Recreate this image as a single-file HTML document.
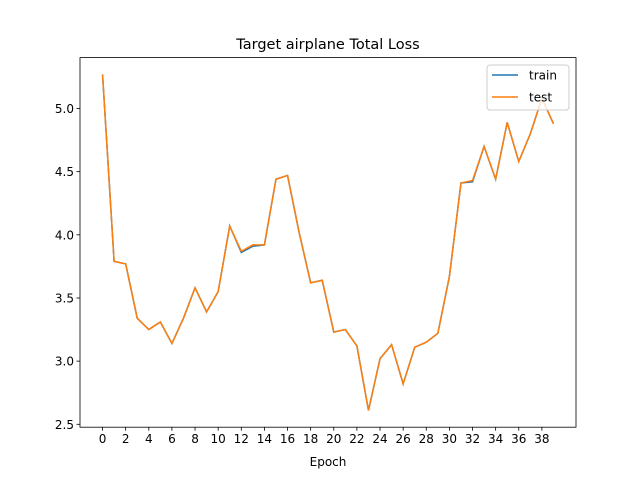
<!DOCTYPE html>
<html><head><meta charset="utf-8"><style>
body{margin:0;background:#fff}
svg{display:block;font-family:"DejaVu Sans","Liberation Sans",sans-serif}
</style></head><body>
<svg id="chart" width="640" height="480">
<rect width="640" height="480" fill="#fff"/>
<text x="328" y="49" text-anchor="middle" font-size="14.5">Target airplane Total Loss</text>
<g id="plot"></g>
</svg>
<script>
const epochs=[...Array(40).keys()];
const trainLoss=[5.27,3.79,3.77,3.34,3.25,3.31,3.14,3.34,3.58,3.39,3.55,4.07,3.86,3.91,3.92,4.44,4.47,4.02,3.62,3.64,3.23,3.25,3.12,2.61,3.02,3.13,2.82,3.11,3.15,3.22,3.67,4.41,4.42,4.70,4.44,4.89,4.58,4.80,5.08,4.88];
const testLoss=[5.27,3.79,3.77,3.34,3.25,3.31,3.14,3.34,3.58,3.39,3.55,4.07,3.87,3.92,3.92,4.44,4.47,4.02,3.62,3.64,3.23,3.25,3.12,2.61,3.02,3.13,2.82,3.11,3.15,3.22,3.67,4.41,4.43,4.70,4.44,4.89,4.58,4.80,5.08,4.88];
const xTicks=[0,2,4,6,8,10,12,14,16,18,20,22,24,26,28,30,32,34,36,38];
const yTicks=[2.5,3.0,3.5,4.0,4.5,5.0];
const NS="http://www.w3.org/2000/svg";
const L=80,R=576,T=57.6,B=427.2;
const all=trainLoss.concat(testLoss);
const ymin=Math.min(...all),ymax=Math.max(...all),yp=(ymax-ymin)*0.05;
const x0=-(epochs.length-1)*0.05,x1=(epochs.length-1)*1.05;
const sx=v=>L+(v-x0)/(x1-x0)*(R-L);
const sy=v=>B-(v-(ymin-yp))/((ymax+yp)-(ymin-yp))*(B-T);
const g=document.getElementById('plot');
function el(t,a){const e=document.createElementNS(NS,t);for(const k in a)e.setAttribute(k,a[k]);g.appendChild(e);return e;}
function series(d,c,name){const p=el('polyline',{points:d.map((v,i)=>sx(epochs[i])+','+sy(v)).join(' '),fill:'none',stroke:c,'stroke-width':1.5});

}
series(trainLoss,'#1f77b4','train-line');
series(testLoss,'#ff7f0e','test-line');
const fr=el('rect',{x:L,y:T,width:R-L,height:B-T,fill:'none',stroke:'#000','stroke-width':0.8});


xTicks.forEach(v=>{el('line',{x1:sx(v),x2:sx(v),y1:B,y2:B+3.5,stroke:'#000','stroke-width':0.8});
const t=el('text',{x:sx(v),y:B+16,'text-anchor':'middle','font-size':12});t.textContent=v;

});
yTicks.forEach(v=>{el('line',{x1:L-3.5,x2:L,y1:sy(v),y2:sy(v),stroke:'#000','stroke-width':0.8});
const t=el('text',{x:L-6,y:sy(v)+4.5,'text-anchor':'end','font-size':12});t.textContent=v.toFixed(1);

});
const xl=el('text',{x:(L+R)/2,y:466,'text-anchor':'middle','font-size':12});xl.textContent='Epoch';


const lg=el('rect',{x:487,y:65,width:82,height:45,rx:3,fill:'#fff','fill-opacity':0.8,stroke:'#ccc'});


[['train','#1f77b4',75],['test','#ff7f0e',97]].forEach(([n,c,y])=>{
el('line',{x1:492,x2:518,y1:y,y2:y,stroke:c,'stroke-width':1.5});
const t=el('text',{x:529,y:y+4.5,'font-size':12});t.textContent=n;

});
</script>
</body></html>
